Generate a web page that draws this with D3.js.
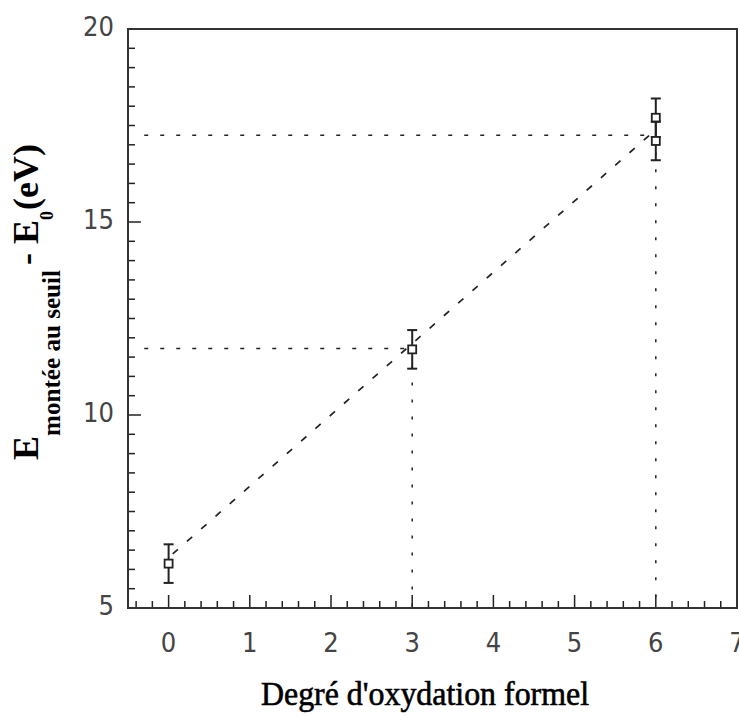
<!DOCTYPE html>
<html>
<head>
<meta charset="utf-8">
<script src="https://cdn.jsdelivr.net/npm/d3@7"></script>
<style>
  body { margin: 0; background: #fff; }
  .tick-label { font-family: "Liberation Sans Narrow", "DejaVu Sans Condensed", "DejaVu Sans", sans-serif; font-stretch: condensed; font-size: 27px; fill: #444; }
  .axis-title { font-family: "Liberation Serif", "DejaVu Serif", serif; fill: #000; }
</style>
</head>
<body>
<svg id="chart" width="739" height="716"></svg>
<script>

// oxidation degree vs energy shift
var degrees   = [0, 3, 6, 6];
var energies  = [6.15, 11.7, 17.7, 17.1];
var errors    = [0.5, 0.5, 0.5, 0.5];

// dashed fit line
var fitX = [0.05, 3, 5.95];
var fitY = [6.4, 11.85, 17.3];

// dotted guides: horizontal level, and the x where each stops
var guideLevels = [11.72, 17.25];
var guideEnds   = [3, 6];
var guideStart  = -0.3;

var xTicks = [0, 1, 2, 3, 4, 5, 6, 7];
var yTicks = [5, 10, 15, 20];

var svg = d3.select("#chart");

var pLeft = 128, pRight = 737, pTop = 29, pBottom = 608;

var x = d3.scaleLinear().domain([-0.5, 7]).range([pLeft, pRight]);
var y = d3.scaleLinear().domain([5, 20]).range([pBottom, pTop]);

var ink = "#222";

// minor + major ticks, pointing inward
var xMinor = d3.range(-0.4, 7.001, 0.2).map(function(v){ return Math.round(v*10)/10; });
var yMinor = d3.range(5, 20.001, 0.5);

svg.append("g").selectAll("line").data(xMinor).enter().append("line")
  .attr("x1", function(d){ return x(d); })
  .attr("x2", function(d){ return x(d); })
  .attr("y1", pBottom)
  .attr("y2", function(d){ return Math.abs(d - Math.round(d)) < 1e-6 ? pBottom - 13 : pBottom - 7; })
  .attr("stroke", ink).attr("stroke-width", 1.5);

svg.append("g").selectAll("line").data(yMinor).enter().append("line")
  .attr("y1", function(d){ return y(d); })
  .attr("y2", function(d){ return y(d); })
  .attr("x1", pLeft)
  .attr("x2", function(d){ return d % 5 == 0 ? pLeft + 13 : pLeft + 7; })
  .attr("stroke", ink).attr("stroke-width", 1.5);

// frame
svg.append("rect")
  .attr("x", pLeft).attr("y", pTop)
  .attr("width", pRight - pLeft).attr("height", pBottom - pTop)
  .attr("fill", "none").attr("stroke", "#333").attr("stroke-width", 2);

// tick labels
svg.append("g").selectAll("text").data(xTicks).enter().append("text")
  .attr("class", "tick-label")
  .attr("x", function(d){ return x(d); })
  .attr("y", 652)
  .attr("text-anchor", "middle")
  .text(function(d){ return d; });

svg.append("g").selectAll("text").data(yTicks).enter().append("text")
  .attr("class", "tick-label")
  .attr("x", 114)
  .attr("y", function(d){ return y(d) + 7; })
  .attr("text-anchor", "end")
  .text(function(d){ return d; });

// dotted guides
guideLevels.forEach(function(lv, i){
  svg.append("line")
    .attr("x1", x(guideStart)).attr("x2", x(guideEnds[i]))
    .attr("y1", y(lv)).attr("y2", y(lv))
    .attr("stroke", ink).attr("stroke-width", 1.5)
    .attr("stroke-dasharray", "4,12");
  svg.append("line")
    .attr("x1", x(guideEnds[i])).attr("x2", x(guideEnds[i]))
    .attr("y1", y(lv)).attr("y2", pBottom)
    .attr("stroke", ink).attr("stroke-width", 1.5)
    .attr("stroke-dasharray", "3,14");
});

// fit line
var fitPts = fitX.map(function(v, i){ return [v, fitY[i]]; });
svg.append("path")
  .datum(fitPts)
  .attr("d", d3.line().x(function(d){ return x(d[0]); }).y(function(d){ return y(d[1]); }))
  .attr("fill", "none").attr("stroke", ink).attr("stroke-width", 1.7)
  .attr("stroke-dasharray", "7,12");

// error bars + squares
var pts = degrees.map(function(d, i){ return { x: d, y: energies[i], e: errors[i] }; });

var bars = svg.append("g").selectAll("g").data(pts).enter().append("g");
bars.append("line")
  .attr("x1", function(d){ return x(d.x); }).attr("x2", function(d){ return x(d.x); })
  .attr("y1", function(d){ return y(d.y - d.e); }).attr("y2", function(d){ return y(d.y + d.e); })
  .attr("stroke", ink).attr("stroke-width", 2);
[-1, 1].forEach(function(s){
  bars.append("line")
    .attr("x1", function(d){ return x(d.x) - 5; }).attr("x2", function(d){ return x(d.x) + 5; })
    .attr("y1", function(d){ return y(d.y + s*d.e); }).attr("y2", function(d){ return y(d.y + s*d.e); })
    .attr("stroke", ink).attr("stroke-width", 2);
});
bars.append("rect")
  .attr("x", function(d){ return x(d.x) - 4; })
  .attr("y", function(d){ return y(d.y) - 4; })
  .attr("width", 8).attr("height", 8)
  .attr("fill", "#fff").attr("stroke", ink).attr("stroke-width", 1.8);

// axis titles
svg.append("text")
  .attr("class", "axis-title")
  .attr("x", 425).attr("y", 705)
  .attr("text-anchor", "middle")
  .attr("textLength", 328).attr("lengthAdjust", "spacingAndGlyphs")
  .style("font-size", "33px")
  .style("stroke", "#000").style("stroke-width", 0.6)
  .text("Degré d'oxydation formel");

var ytitle = svg.append("text")
  .attr("class", "axis-title")
  .attr("text-anchor", "middle")
  .attr("transform", "translate(38,302) rotate(-90)")
  .style("font-size", "36px").style("font-weight", "bold");
ytitle.append("tspan").text("E");
ytitle.append("tspan").attr("dy", 22)
  .attr("textLength", 166).attr("lengthAdjust", "spacingAndGlyphs")
  .style("font-size", "26px").text("montée au seuil");
ytitle.append("tspan").attr("dy", -22).attr("dx", 5).text("-");
ytitle.append("tspan").attr("dx", 9).text("E");
ytitle.append("tspan").attr("dy", 15).style("font-size", "18px").text("0");
ytitle.append("tspan").attr("dy", -15).attr("dx", 1).text("(eV)");

</script>
</body>
</html>
